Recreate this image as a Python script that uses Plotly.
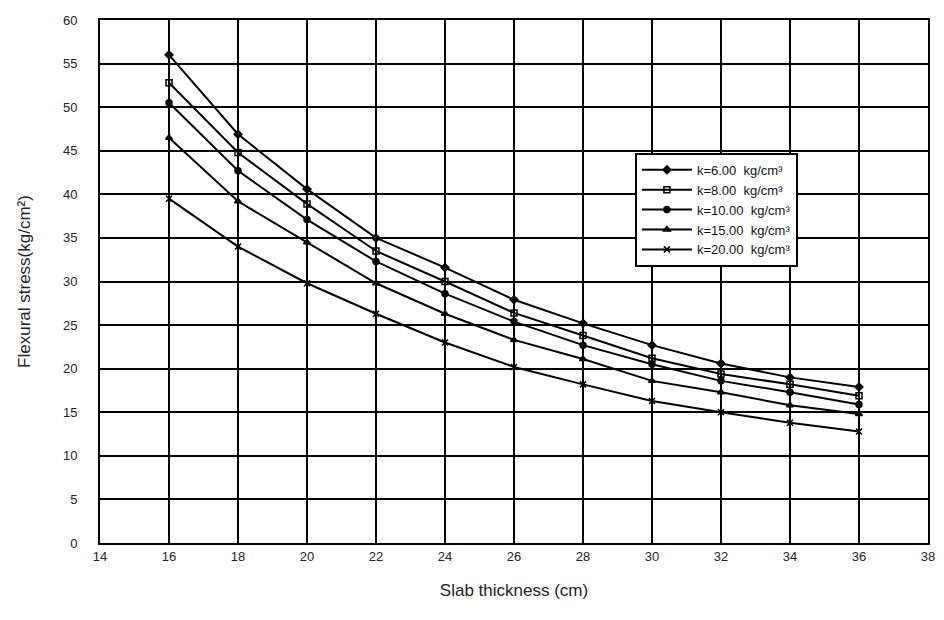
import plotly.graph_objects as go

thickness = [16, 18, 20, 22, 24, 26, 28, 30, 32, 34, 36]
k6 = [56.0, 46.9, 40.6, 35.0, 31.6, 27.9, 25.2, 22.7, 20.6, 19.0, 17.9]
k8 = [52.8, 44.8, 38.9, 33.5, 30.0, 26.4, 23.8, 21.2, 19.4, 18.2, 16.9]
k10 = [50.5, 42.7, 37.1, 32.3, 28.6, 25.4, 22.7, 20.5, 18.6, 17.3, 15.9]
k15 = [46.5, 39.2, 34.5, 29.8, 26.3, 23.3, 21.1, 18.6, 17.3, 15.8, 14.8]
k20 = [39.5, 34.0, 29.8, 26.3, 23.0, 20.2, 18.2, 16.3, 15.0, 13.8, 12.8]

series_names = ["k=6.00  kg/cm³", "k=8.00  kg/cm³", "k=10.00  kg/cm³",
                "k=15.00  kg/cm³", "k=20.00  kg/cm³"]
series_values = [k6, k8, k10, k15, k20]
markers = ["diamond", "square-open", "circle", "triangle-up", "x-thin-open"]

x_ticks = list(range(14, 40, 2))
y_ticks = list(range(0, 65, 5))

FONT = "Liberation Sans, Arial, sans-serif"

fig = go.Figure()
for name, vals, m in zip(series_names, series_values, markers):
    fig.add_trace(go.Scatter(
        x=thickness, y=vals, mode="lines+markers", name=name,
        line=dict(color="black", width=2),
        marker=dict(symbol=m, size=6, color="black",
                    line=dict(color="black", width=1.5)),
    ))

axis_common = dict(
    showgrid=True, gridcolor="black", gridwidth=1.6,
    showline=True, linecolor="black", linewidth=2, mirror=True,
    zeroline=False, automargin=False,
    tickfont=dict(family=FONT, size=13, color="#222"),
)

fig.update_xaxes(range=[14, 38], tickvals=x_ticks, ticktext=[str(v) for v in x_ticks],
                 ticks="",
                 title=dict(text="Slab thickness (cm)",
                            font=dict(family=FONT, size=17, color="#222"),
                            standoff=22),
                 **axis_common)
fig.update_yaxes(range=[0, 60], tickvals=y_ticks, ticktext=[str(v) for v in y_ticks],
                 ticks="outside", ticklen=18, tickcolor="white",
                 title=dict(text="Flexural stress(kg/cm²)",
                            font=dict(family=FONT, size=17, color="#222"),
                            standoff=28),
                 **axis_common)

fig.update_layout(
    width=944, height=620,
    margin=dict(l=92, r=24, t=12, b=85),
    paper_bgcolor="white", plot_bgcolor="white",
    font=dict(family=FONT, color="#222"),
    legend=dict(x=0.646, y=0.746, xanchor="left", yanchor="top",
                bgcolor="white", bordercolor="black", borderwidth=2,
                font=dict(size=13, color="#111"), itemwidth=50,
                tracegroupgap=0),
)

fig.write_html("out.html")
